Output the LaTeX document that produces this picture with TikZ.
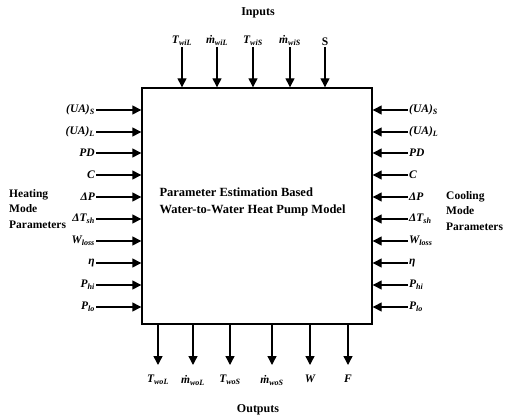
\documentclass[tikz,border=0pt]{standalone}
\usepackage{fontspec}
\setmainfont{Liberation Serif}
\usetikzlibrary{arrows.meta}
\begin{document}
\begin{tikzpicture}[x=1pt,y=-1pt,
  arr/.style={line width=1.4pt,-{Triangle[length=9pt,width=9pt]}},
  lab/.style={font=\fontsize{11.5}{13}\selectfont\bfseries\itshape,inner sep=1pt},
  head/.style={font=\fontsize{12}{13}\selectfont\bfseries,inner sep=0pt},
  grp/.style={font=\fontsize{11.5}{15.5}\selectfont\bfseries,align=left,inner sep=0pt},
  boxst/.style={draw,line width=1.4pt,minimum width=230pt,minimum height=236pt,inner sep=0pt}]
\useasboundingbox (0,0) rectangle (516,417);
\node[boxst] (box) at (257,206) {};
\node[font=\fontsize{12.5}{17}\selectfont\bfseries,align=left,anchor=north west] (title) at (156,184)
  {Parameter Estimation Based\\Water-to-Water Heat Pump Model};
% inputs
\node[head] (inputs) at (258,13) {Inputs};
\foreach \x/\t [count=\i] in {182/{T\textsubscript{wiL}},217/{ṁ\textsubscript{wiL}},253/{T\textsubscript{wiS}},290/{ṁ\textsubscript{wiS}},325/{\upshape S}}{
  \coordinate (ti\i) at (\x,47);
  \node[lab,anchor=south] (tl\i) at (ti\i) {\t};
  \draw[arr] (ti\i) -- (ti\i |- box.north);
}
% outputs
\foreach \x/\t [count=\i] in {158/{T\textsubscript{woL}},193/{ṁ\textsubscript{woL}},230/{T\textsubscript{woS}},272/{ṁ\textsubscript{woS}},310/{W},348/{F}}{
  \coordinate (bo\i) at (\x,365);
  \draw[arr] (bo\i |- box.south) -- (bo\i);
  \node[lab,anchor=north] (bl\i) at ([yshift=-9pt]bo\i) {\t};
}
\node[head] (outputs) at (258,410) {Outputs};
% left / right parameter rows
\foreach \y/\t [count=\i] in {110/{(UA)\textsubscript{S}},132/{(UA)\textsubscript{L}},153/{PD},175/{C},197/{ΔP},219/{ΔT\textsubscript{sh}},241/{W\textsubscript{loss}},263/{η},285/{P\textsubscript{hi}},307/{P\textsubscript{lo}}}{
  \coordinate (pl\i) at (96,\y);
  \node[lab,anchor=east] (ll\i) at (pl\i) {\t};
  \draw[arr] (pl\i) -- (pl\i -| box.west);
  \coordinate (pr\i) at (408,\y);
  \node[lab,anchor=west] (rl\i) at (pr\i) {\t};
  \draw[arr] (pr\i) -- (pr\i -| box.east);
}
\node[grp,anchor=north west] (heat) at (9,189) {Heating\\Mode\\Parameters};
\node[grp,anchor=north west] (cool) at (446,191) {Cooling\\Mode\\Parameters};
\end{tikzpicture}
\end{document}
